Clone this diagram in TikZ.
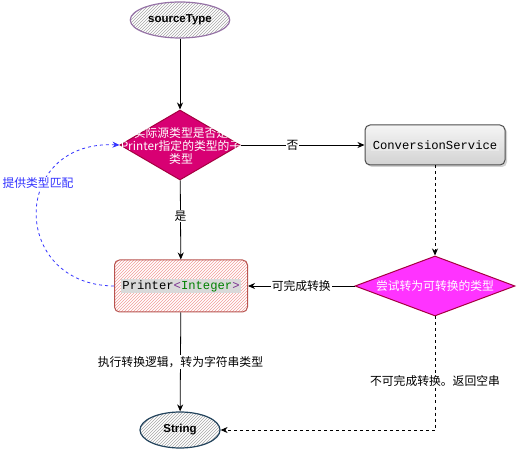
\documentclass[tikz,border=0pt]{standalone}
\usepackage{fontspec}
\setmainfont{Liberation Sans}
\setmonofont{Liberation Mono}
\newfontfamily\cjk{Noto Sans CJK SC}
\usetikzlibrary{shapes.geometric,arrows.meta,patterns,shadows}
\definecolor{crim}{HTML}{D80073}
\definecolor{crimd}{HTML}{A50040}
\definecolor{mag}{HTML}{FF33FF}
\definecolor{purp}{HTML}{9673A6}
\definecolor{redb}{HTML}{B85450}
\definecolor{redl}{HTML}{F19C99}
\definecolor{navy}{HTML}{23445D}
\definecolor{blu}{HTML}{3333FF}
\definecolor{codegreen}{HTML}{008000}
\definecolor{codepurp}{HTML}{7A2F8F}
\tikzset{
  arr/.style={-{Stealth[length=7pt,width=6pt]}, line width=0.8pt},
  dsh/.style={dash pattern=on 3pt off 3pt},
  lbl/.style={fill=white, inner sep=1pt, font=\cjk\fontsize{11.8}{13}\selectfont},
  ellnode/.style={ellipse, minimum width=80pt, minimum height=36pt, line width=1.2pt, pattern=north east lines, pattern color=gray!70, font=\bfseries\fontsize{11.5}{13}\selectfont},
  diabox/.style={diamond, inner sep=0pt, line width=1pt},
  txt/.style={text=white, align=center, inner sep=0pt, font=\cjk\fontsize{11.8}{13}\selectfont},
  codetxt/.style={inner sep=1.5pt, font=\ttfamily\fontsize{12.2}{14}\selectfont},
}
\begin{document}
\begin{tikzpicture}[x=1pt,y=-1pt]
\useasboundingbox (0,0) rectangle (517,454);
% nodes
\node[ellnode, draw=purp] (src) at (180,20) {sourceType};
\node[diabox, fill=crim, draw=crimd, minimum width=120pt, minimum height=70pt] (d1) at (180,145) {};
\node[txt] at (181,146) {实际源类型是否是\\Printer指定的类型的子\\类型};
\node[rectangle, rounded corners=5pt, minimum width=140pt, minimum height=40pt, top color=gray!8, bottom color=gray!35, draw=gray!60!black, line width=1pt, drop shadow={opacity=0.35, shadow xshift=2pt, shadow yshift=-2pt}] (cs) at (435,145) {};
\node[codetxt, fill=gray!18] at (cs) {ConversionService};
\node[rectangle, rounded corners=5pt, minimum width=133pt, minimum height=52pt, draw=redb, line width=1pt, pattern=north east lines, pattern color=redl] (pr) at (181,286) {};
\node[codetxt, fill=gray!30] at (pr) {Printer\textcolor{codepurp}{<}\textcolor{codegreen}{Integer}\textcolor{codepurp}{>}};
\node[diabox, fill=mag, draw=crimd, minimum width=160pt, minimum height=60pt] (d2) at (435,286) {};
\node[txt] at (d2) {尝试转为可转换的类型};
\node[ellnode, draw=navy] (str) at (180,430) {String};
% connectors
\draw[arr] (src) -- (d1);
\draw[arr] (d1) -- node[lbl, pos=0.42]{否} (cs);
\draw[arr] (d1) -- node[lbl, pos=0.45]{是} (pr);
\draw[arr, dsh] (cs) -- (d2);
\draw[arr] (d2) -- node[lbl]{可完成转换} (pr);
\draw[arr] (pr) -- node[lbl, pos=0.5]{执行转换逻辑，转为字符串类型} (str);
\coordinate (c1) at (435,430);
\draw[arr, dsh] (d2.south) -- (c1) -- (str.east);
\node[lbl] at (435,381) {不可完成转换。返回空串};
\draw[arr, dsh, draw=blu] (pr.west) .. controls (10,285) and (10,140) .. (d1.west);
\node[lbl, text=blu] at (38,183) {提供类型匹配};
\end{tikzpicture}
\end{document}
